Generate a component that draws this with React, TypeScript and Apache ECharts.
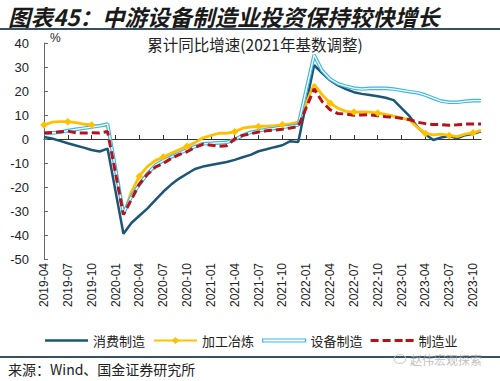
import React, { useEffect, useRef } from "react";
import * as echarts from "echarts";

const categories = [
  "2019-04", "2019-05", "2019-06", "2019-07", "2019-08", "2019-09", "2019-10", "2019-11", "2019-12",
  "2020-01", "2020-02", "2020-03", "2020-04", "2020-05", "2020-06", "2020-07", "2020-08", "2020-09", "2020-10", "2020-11", "2020-12",
  "2021-01", "2021-02", "2021-03", "2021-04", "2021-05", "2021-06", "2021-07", "2021-08", "2021-09", "2021-10", "2021-11", "2021-12",
  "2022-01", "2022-02", "2022-03", "2022-04", "2022-05", "2022-06", "2022-07", "2022-08", "2022-09", "2022-10", "2022-11", "2022-12",
  "2023-01", "2023-02", "2023-03", "2023-04", "2023-05", "2023-06", "2023-07", "2023-08", "2023-09", "2023-10", "2023-11",
];

// 消费制造
const consumerMfg = [
  0.8, 0.2, -0.8, -1.8, -2.7, -3.6, -4.6, -5.2, -4.0,
  null, -39.5, -35, -32, -29, -25.5, -22, -19, -16.5, -14.5, -12.5, -11.5,
  null, -10.2, -9.6, -8.7, -7.6, -6.6, -5.1, -4.3, -3.4, -2.6, -0.9, -1.3,
  null, 30.8, 27.5, 24.5, 22.3, 20.8, 19.5, 18.8, 18.3, 17.8, 17.2, 16.2,
  null, 9.5, 5.0, 2.0, -0.4, 0.6, 1.2, 0.3, 1.6, 2.2, 3.2,
];

// 加工冶炼
const processing = [
  5.8, 7.0, 7.2, 7.2, 6.8, 6.2, 5.8, 5.5, 5.6,
  null, -31.5, -22, -15.5, -11.5, -9, -7.5, -6, -4.5, -3, -1.5, 0.5,
  null, 2.4, 2.4, 3.0, 4.5, 5.0, 5.2, 5.4, 5.6, 5.9, 6.3, 7.0,
  null, 22.8, 18.5, 15.0, 12.8, 11.5, 11.2, 11.3, 11.2, 10.8, 10.3, 9.5,
  null, 8.0, 4.8, 2.3, 1.7, 2.0, 1.5, 1.0, 2.0, 2.6, 3.6,
];

// 设备制造
const equipment = [
  2.3, 2.5, 2.8, 3.5, 4.0, 4.5, 5.0, 5.5, 6.2,
  null, -31, -24, -19, -14.5, -11, -9, -7.5, -6, -4.5, -3.2, -2,
  null, -1.6, -1.4, -0.3, 1.5, 2.8, 3.4, 4.0, 4.4, 4.9, 5.3, 5.8,
  null, 35.0, 28.5, 25.0, 23.0, 22.0, 21.2, 20.8, 21.1, 21.1, 21.1, 20.8,
  null, 19.7, 19.3, 18.3, 17.0, 15.8, 15.3, 15.3, 15.7, 16.0, 16.0,
];

// 制造业
const manufacturing = [
  2.5, 2.7, 3.0, 3.3, 2.6, 2.5, 2.6, 2.5, 3.1,
  null, -31.5, -25.2, -18.8, -14.8, -11.7, -10.2, -8.1, -6.5, -5.3, -3.5, -2.2,
  null, -3.0, -2.8, 0.0, 1.5, 2.2, 2.9, 3.4, 3.7, 4.1, 4.6, 5.2,
  null, 20.9, 15.6, 12.2, 10.6, 10.4, 9.9, 10.0, 10.1, 9.7, 9.3, 9.1,
  null, 8.1, 7.0, 6.4, 6.0, 6.0, 5.7, 5.9, 6.2, 6.2, 6.3,
];

const seriesNames = ["消费制造", "加工冶炼", "设备制造", "制造业"];
const yTicks = { min: -50, max: 40, interval: 10 };

const TITLE = "图表45：中游设备制造业投资保持较快增长";
const SUBTITLE = "累计同比增速(2021年基数调整)";
const SOURCE = "来源：Wind、国金证券研究所";
const WATERMARK = "赵伟宏观探索";

const C_DARK = "#1C5676";
const C_YELLOW = "#FFC000";
const C_LIGHT = "#3DB7E6";
const C_RED = "#B3141C";
const NUM_FONT = "'Liberation Sans', Arial, 'Noto Sans CJK SC', sans-serif";
const CJK_FONT = "'Noto Sans CJK SC', 'Liberation Sans', sans-serif";

// legend icons (padded to the legend item box so that they are not stretched)
const ICON_SOLID = "path://M0,0 M43,9 M0,3.2 L43,3.2 L43,5.8 L0,5.8 Z";
const ICON_DOUBLE = "path://M0,0 M43,9 M0,3 L43,3 L43,6 L0,6 Z";
const ICON_DASH =
  "path://M0,0 M43,9 M0,3 L8,3 L8,6 L0,6 Z M12,3 L20,3 L20,6 L12,6 Z M24,3 L32,3 L32,6 L24,6 Z M35,3 L43,3 L43,6 L35,6 Z";

export default function App() {
  const ref = useRef<HTMLDivElement>(null);

  useEffect(() => {
    if (!ref.current) return;
    const chart = echarts.init(ref.current, undefined, { renderer: "svg" });
    chart.setOption({
      animation: false,
      backgroundColor: "#ffffff",
      grid: { left: 44, top: 43, width: 437, height: 216, containLabel: false },
      legend: {
        top: 329,
        left: 40,
        itemWidth: 43,
        itemHeight: 9,
        itemGap: 8,
        textStyle: { fontSize: 13, color: "#222", fontFamily: CJK_FONT },
        data: [
          { name: seriesNames[0], icon: ICON_SOLID, itemStyle: { color: C_DARK, borderWidth: 0 } },
          { name: seriesNames[1] },
          {
            name: seriesNames[2],
            icon: ICON_DOUBLE,
            itemStyle: { color: "#ffffff", borderColor: C_LIGHT, borderWidth: 1.2 },
          },
          { name: seriesNames[3], icon: ICON_DASH, itemStyle: { color: C_RED, borderWidth: 0 } },
        ],
      },
      xAxis: [
        {
          type: "category",
          data: categories,
          boundaryGap: false,
          position: "bottom",
          axisLine: { show: false, onZero: false },
          axisTick: { show: false },
          axisLabel: {
            interval: 2,
            rotate: 90,
            fontSize: 12,
            color: "#222",
            fontFamily: NUM_FONT,
            margin: 4,
          },
          splitLine: { show: false },
        },
        {
          type: "category",
          data: categories,
          boundaryGap: false,
          position: "bottom",
          axisLine: { show: true, onZero: true, lineStyle: { color: "#333", width: 1 } },
          axisTick: { show: true, inside: true, interval: 2, length: 4, lineStyle: { color: "#333" } },
          axisLabel: { show: false },
          splitLine: { show: false },
        },
      ],
      yAxis: {
        type: "value",
        min: yTicks.min,
        max: yTicks.max,
        interval: yTicks.interval,
        axisLine: { show: true, lineStyle: { color: "#666", width: 1 } },
        axisTick: { show: true, inside: true, length: 4, lineStyle: { color: "#666" } },
        axisLabel: { fontSize: 13, color: "#222", fontFamily: NUM_FONT, margin: 15 },
        splitLine: { show: false },
      },
      series: [
        {
          name: seriesNames[0],
          type: "line",
          data: consumerMfg,
          connectNulls: true,
          symbol: "none",
          lineStyle: { color: C_DARK, width: 2.5 },
          itemStyle: { color: C_DARK },
        },
        {
          name: seriesNames[1],
          type: "line",
          data: processing,
          connectNulls: true,
          symbol: "diamond",
          symbolSize: 7.5,
          showSymbol: true,
          lineStyle: { color: C_YELLOW, width: 2.8 },
          itemStyle: { color: C_YELLOW },
        },
        {
          name: seriesNames[2],
          type: "line",
          data: equipment,
          connectNulls: true,
          symbol: "none",
          lineStyle: { color: C_LIGHT, width: 3.6 },
          itemStyle: { color: C_LIGHT },
        },
        {
          name: "设备制造-内线",
          type: "line",
          data: equipment,
          connectNulls: true,
          symbol: "none",
          silent: true,
          lineStyle: { color: "#ffffff", width: 1.3 },
          itemStyle: { color: "#ffffff" },
        },
        {
          name: seriesNames[3],
          type: "line",
          data: manufacturing,
          connectNulls: true,
          symbol: "none",
          lineStyle: { color: C_RED, width: 3, type: [8, 4] },
          itemStyle: { color: C_RED },
        },
      ],
      graphic: [
        {
          type: "text",
          x: 8,
          y: 16,
          style: {
            text: TITLE,
            fontSize: 22.5,
            fontWeight: "bold",
            fontStyle: "italic",
            fontFamily: CJK_FONT,
            fill: "#1a1a1a",
            textAlign: "left",
            textVerticalAlign: "middle",
          },
        },
        {
          type: "line",
          shape: { x1: 0, y1: 29, x2: 500, y2: 29 },
          style: { stroke: "#3b4f5e", lineWidth: 2 },
        },
        {
          type: "text",
          x: 255,
          y: 44,
          style: {
            text: SUBTITLE,
            fontSize: 15.5,
            fontFamily: CJK_FONT,
            fill: "#222",
            textAlign: "center",
            textVerticalAlign: "middle",
          },
        },
        {
          type: "text",
          x: 50,
          y: 38,
          style: {
            text: "%",
            fontSize: 12,
            fontFamily: NUM_FONT,
            fill: "#222",
            textAlign: "left",
            textVerticalAlign: "middle",
          },
        },
        {
          type: "line",
          shape: { x1: 0, y1: 357, x2: 500, y2: 357 },
          style: { stroke: "#3b4f5e", lineWidth: 2 },
        },
        {
          type: "text",
          x: 8,
          y: 369,
          style: {
            text: SOURCE,
            fontSize: 14,
            fontFamily: CJK_FONT,
            fill: "#222",
            textAlign: "left",
            textVerticalAlign: "middle",
          },
        },
        {
          type: "ellipse",
          shape: { cx: 400, cy: 359, rx: 6, ry: 4.5 },
          style: { fill: "none", stroke: "#c8c8c8", lineWidth: 1 },
        },
        {
          type: "text",
          x: 410,
          y: 359,
          style: {
            text: WATERMARK,
            fontSize: 12,
            fontFamily: CJK_FONT,
            fill: "rgba(170,170,170,0.75)",
            textAlign: "left",
            textVerticalAlign: "middle",
          },
        },
      ],
    });
    return () => chart.dispose();
  }, []);

  return (
    <div
      ref={ref}
      style={{ position: "fixed", left: 0, top: 0, width: 500, height: 381, background: "#fff" }}
    />
  );
}
